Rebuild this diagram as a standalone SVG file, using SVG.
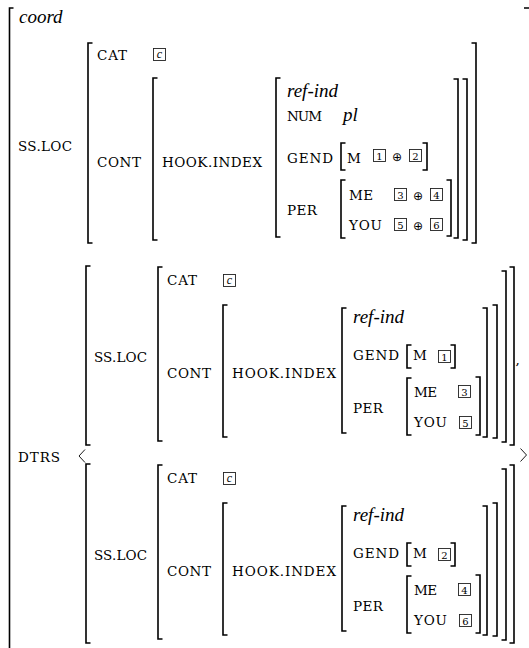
<svg xmlns="http://www.w3.org/2000/svg" xmlns:xlink="http://www.w3.org/1999/xlink" width="529" height="648" viewBox="0 0 529 648">
  <style>
    .br { fill: none; stroke: #000; stroke-width: 1.6; stroke-linecap: butt; stroke-linejoin: miter; }
    .ang { fill: none; stroke: #000; stroke-width: 0.9; }
    text { fill: #000; }
    .sc { font-family: 'DejaVu Serif', 'Liberation Serif', serif; font-size: 13.5px; }
    .it { font-family: 'Liberation Serif', 'DejaVu Serif', serif; font-style: italic; font-size: 19px; }
    .box { fill: #fff; stroke: #222; stroke-width: 0.9; }
    .num { font-family: 'DejaVu Serif', serif; font-size: 10px; text-anchor: middle; }
    .tag { font-family: 'Liberation Serif', serif; font-style: italic; font-size: 12px; text-anchor: middle; }
    .op { font-family: 'DejaVu Sans', sans-serif; font-size: 12px; text-anchor: middle; }
  </style>

  <defs>
    <!-- one daughter: SS.LOC matrix without its index values -->
    <g id="daughter">
      <path class="br" d="M90.5,266 H86 V445 H90.5"/>
      <path class="br" d="M509.5,267 H514 V445 H509.5"/>
      <text class="sc" x="94" y="362" textLength="53">SS.LOC</text>

      <path class="br" d="M162.5,267 H158 V441 H162.5"/>
      <path class="br" d="M501.5,271 H506 V442 H501.5"/>
      <text class="sc" x="167" y="285" textLength="30">CAT</text>
      <rect class="box" x="223.5" y="274.5" width="12" height="12"/>
      <text class="tag" x="229.5" y="284">c</text>
      <text class="sc" x="167" y="378" textLength="44">CONT</text>

      <path class="br" d="M227.5,305 H223 V437 H227.5"/>
      <path class="br" d="M492.5,305 H497 V438 H492.5"/>
      <text class="sc" x="232" y="378" textLength="104">HOOK.INDEX</text>

      <path class="br" d="M346.5,308 H342 V433 H346.5"/>
      <path class="br" d="M482.5,308 H487 V437 H482.5"/>
      <text class="it" x="353" y="323">ref-ind</text>
      <text class="sc" x="353" y="360" textLength="46">GEND</text>
      <path class="br" d="M411.5,345 H407 V368 H411.5"/>
      <path class="br" d="M450.5,345 H455 V368 H450.5"/>
      <text class="sc" x="413" y="360" textLength="13">M</text>
      <rect class="box" x="438.5" y="350.5" width="12" height="12"/>

      <text class="sc" x="353" y="413" textLength="30">PER</text>
      <path class="br" d="M411.5,378 H407 V435 H411.5"/>
      <path class="br" d="M475.5,377 H480 V435 H475.5"/>
      <text class="sc" x="414" y="397" textLength="23">ME</text>
      <rect class="box" x="458.5" y="385.5" width="12" height="12"/>
      <text class="sc" x="414" y="427" textLength="33">YOU</text>
      <rect class="box" x="459.5" y="416.5" width="12" height="12"/>
    </g>
  </defs>

  <!-- outermost coord matrix -->
  <g id="coord-avm">
    <path class="br" d="M13.5,8 H9.5 V660"/>
    <path class="br" d="M524,8 H531 V660"/>
    <text class="it" x="19" y="23">coord</text>
  </g>

  <!-- mother SS.LOC value -->
  <g id="mother">
    <text class="sc" x="18" y="151" textLength="54">SS.LOC</text>
    <path class="br" d="M92.5,43 H88 V243 H92.5"/>
    <path class="br" d="M471.5,43 H476 V243 H471.5"/>

    <text class="sc" x="97" y="60" textLength="30">CAT</text>
    <rect class="box" x="153.5" y="48.5" width="12" height="12"/>
    <text class="tag" x="159.5" y="58">c</text>

    <text class="sc" x="97" y="167" textLength="44">CONT</text>
    <path class="br" d="M157.5,78 H153 V240 H157.5"/>
    <path class="br" d="M462.5,79 H467 V240 H462.5"/>
    <text class="sc" x="162" y="167" textLength="100">HOOK.INDEX</text>

    <path class="br" d="M280.5,78 H276 V237 H280.5"/>
    <path class="br" d="M453.5,79 H458 V238 H453.5"/>
    <text class="it" x="287" y="97">ref-ind</text>
    <text class="sc" x="287" y="121" textLength="35">NUM</text>
    <text class="it" x="343" y="121">pl</text>

    <text class="sc" x="287" y="163" textLength="46">GEND</text>
    <path class="br" d="M345.5,143 H341 V170 H345.5"/>
    <path class="br" d="M422.5,143 H427 V170 H422.5"/>
    <text class="sc" x="347" y="163" textLength="13">M</text>
    <rect class="box" x="373.5" y="149.5" width="12" height="12"/>
    <text class="num" x="379.5" y="159.5">1</text>
    <text class="op" x="397" y="160.5">⊕</text>
    <rect class="box" x="409.5" y="149.5" width="12" height="12"/>
    <text class="num" x="415.5" y="159.5">2</text>

    <text class="sc" x="287" y="215" textLength="30">PER</text>
    <path class="br" d="M345.5,180 H341 V238 H345.5"/>
    <path class="br" d="M446.5,180 H451 V236 H446.5"/>
    <text class="sc" x="349" y="200" textLength="24">ME</text>
    <rect class="box" x="394.5" y="188.5" width="12" height="12"/>
    <text class="num" x="400.5" y="198.5">3</text>
    <text class="op" x="418" y="199.5">⊕</text>
    <rect class="box" x="430.5" y="188.5" width="12" height="12"/>
    <text class="num" x="436.5" y="198.5">4</text>
    <text class="sc" x="349" y="230" textLength="33">YOU</text>
    <rect class="box" x="394.5" y="218.5" width="12" height="12"/>
    <text class="num" x="400.5" y="228.5">5</text>
    <text class="op" x="418" y="229.5">⊕</text>
    <rect class="box" x="430.5" y="218.5" width="12" height="12"/>
    <text class="num" x="436.5" y="228.5">6</text>
  </g>

  <!-- DTRS list -->
  <g id="dtrs">
    <text class="sc" x="18" y="462" textLength="42">DTRS</text>
    <polyline class="ang" points="85,449.5 79,456 85,462.5"/>
    <polyline class="ang" points="520.5,448.5 526.5,455 520.5,461.5"/>
    <text class="sc" x="515.5" y="364">,</text>
  </g>

  <g id="daughter-1">
    <use xlink:href="#daughter"/>
    <text class="num" x="444.5" y="360.5">1</text>
    <text class="num" x="464.5" y="395.5">3</text>
    <text class="num" x="465.5" y="426.5">5</text>
  </g>

  <g id="daughter-2" transform="translate(0,198)">
    <use xlink:href="#daughter"/>
    <text class="num" x="444.5" y="360.5">2</text>
    <text class="num" x="464.5" y="395.5">4</text>
    <text class="num" x="465.5" y="426.5">6</text>
  </g>
</svg>
